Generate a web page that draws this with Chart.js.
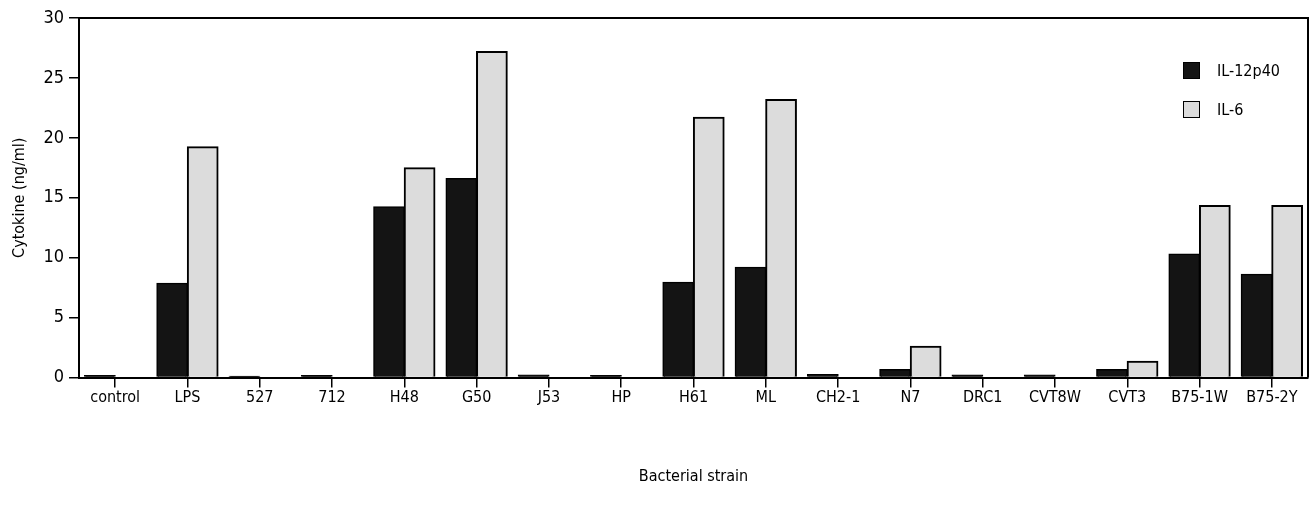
<!DOCTYPE html>
<html>
<head>
<meta charset="utf-8">
<script src="https://cdn.jsdelivr.net/npm/chart.js@4/dist/chart.umd.min.js"></script>
<style>
  html, body { margin: 0; padding: 0; background: #fff; }
  #wrap { position: relative; width: 1313px; height: 509px; }
  #legend { position: absolute; left: 1183px; top: 61px; font-family: 'Liberation Sans Narrow', 'DejaVu Sans Condensed', 'Liberation Sans', sans-serif; font-size: 16px; color: #000; }
  .item { display: flex; align-items: center; height: 19px; margin-bottom: 20px; }
  .box { width: 17px; height: 17px; border: 1.5px solid #000; box-sizing: border-box; margin-right: 17px; }
</style>
</head>
<body>
<div id="wrap">
  <canvas id="c" width="1313" height="509"></canvas>
  <div id="legend"></div>
</div>
<script>
const categories = ['control','LPS','527','712','H48','G50','J53','HP','H61','ML','CH2-1','N7','DRC1','CVT8W','CVT3','B75-1W','B75-2Y'];
const il12p40 = [0.15, 7.85, 0.1, 0.15, 14.25, 16.6, 0.2, 0.15, 7.95, 9.2, 0.25, 0.65, 0.2, 0.2, 0.65, 10.3, 8.6];
const il6 = [0, 19.25, 0, 0, 17.5, 27.2, 0, 0, 21.7, 23.2, 0, 2.6, 0, 0, 1.35, 14.35, 14.35];
const seriesNames = ['IL-12p40', 'IL-6'];
const yTicks = [0, 5, 10, 15, 20, 25, 30];
const xTitle = 'Bacterial strain';
const yTitle = 'Cytokine (ng/ml)';

const FONT = "'Liberation Sans Narrow', 'DejaVu Sans Condensed', 'Liberation Sans', sans-serif";
const colors = ['#141414', '#dcdcdc'];

const framePlugin = {
  id: 'frame',
  afterDraw(chart) {
    const {ctx, chartArea: a} = chart;
    ctx.save();
    ctx.strokeStyle = '#000';
    ctx.lineWidth = 2;
    ctx.beginPath();
    ctx.moveTo(a.left, a.top);
    ctx.lineTo(a.right, a.top);
    ctx.lineTo(a.right, a.bottom);
    ctx.stroke();
    ctx.restore();
  }
};

const chart = new Chart(document.getElementById('c'), {
  type: 'bar',
  data: {
    labels: categories,
    datasets: [
      { label: seriesNames[0], data: il12p40, backgroundColor: colors[0], borderColor: '#000', borderWidth: 1.5, inflateAmount: 0.6 },
      { label: seriesNames[1], data: il6, backgroundColor: colors[1], borderColor: '#000', borderWidth: 2, inflateAmount: 0.6 }
    ]
  },
  options: {
    responsive: false,
    animation: false,
    events: [],
    categoryPercentage: 0.845,
    barPercentage: 1.0,
    layout: { padding: { top: 18, right: 5, left: 0, bottom: 0 } },
    plugins: { legend: { display: false }, tooltip: { enabled: false } },
    scales: {
      x: {
        afterFit(s) { s.height = 131.5; },
        grid: { offset: false, drawOnChartArea: false, drawTicks: true, tickLength: 10, color: '#000', lineWidth: 1.5 },
        border: { display: true, color: '#000', width: 2 },
        ticks: { color: '#000', font: { family: FONT, size: 16 }, padding: 1, maxRotation: 0, autoSkip: false },
        title: { display: true, text: xTitle, color: '#000', font: { family: FONT, size: 16 }, padding: { top: 0, bottom: 23 } }
      },
      y: {
        min: 0, max: 30,
        afterFit(s) { s.width = 79; },
        afterBuildTicks(s) { s.ticks = yTicks.map(v => ({ value: v })); },
        grid: { drawOnChartArea: false, drawTicks: true, tickLength: 10, color: '#000', lineWidth: 1.5 },
        border: { display: true, color: '#000', width: 2 },
        ticks: { color: '#000', font: { family: FONT, size: 18 }, padding: 5 },
        title: { display: true, text: yTitle, color: '#000', font: { family: FONT, size: 16 }, padding: { top: 10, bottom: 0 } }
      }
    }
  },
  plugins: [framePlugin]
});

const legend = document.getElementById('legend');
chart.data.datasets.forEach(ds => {
  const item = document.createElement('div');
  item.className = 'item';
  const box = document.createElement('span');
  box.className = 'box';
  box.style.background = ds.backgroundColor;
  const txt = document.createElement('span');
  txt.textContent = ds.label;
  item.appendChild(box);
  item.appendChild(txt);
  legend.appendChild(item);
});
</script>
</body>
</html>
